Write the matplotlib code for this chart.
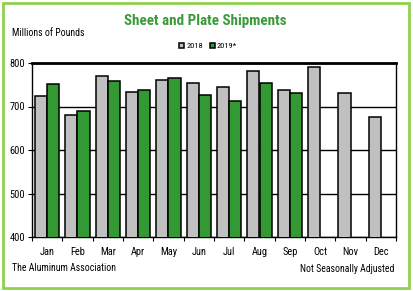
import numpy as np
import matplotlib
matplotlib.use("Agg")
import matplotlib.pyplot as plt
from matplotlib.patches import Rectangle

plt.rcParams['font.family'] = ['Roboto Condensed', 'Archivo Narrow', 'DejaVu Sans']

months = ["Jan", "Feb", "Mar", "Apr", "May", "Jun", "Jul", "Aug", "Sep", "Oct", "Nov", "Dec"]
ship_2018 = [724, 680, 770, 733, 760, 753, 745, 781, 738, 790, 731, 676]
ship_2019 = [752, 690, 759, 739, 765, 726, 712, 754, 732]
yticks = [400, 500, 600, 700, 800]

GRAY = "#c0c0c0"
GREEN = "#339933"

fig = plt.figure(figsize=(4.14, 2.91), dpi=100)
ax = fig.add_axes([32 / 414, 1 - 237 / 291, 364 / 414, 174 / 291])

x = np.arange(len(months))
w = 0.4
ax.bar(x - w / 2, ship_2018, w, color=GRAY, edgecolor="black", linewidth=1.1,
       label="2018", zorder=3)
ax.bar(np.arange(len(ship_2019)) + w / 2, ship_2019, w, color=GREEN, edgecolor="black",
       linewidth=1.1, label="2019*", zorder=3)

ax.set_xlim(-0.5, len(months) - 0.5)
ax.set_ylim(400, 800)
ax.set_yticks(yticks)
ax.set_yticklabels([str(v) for v in yticks], fontsize=7.5)
ax.grid(axis="y", color="black", linewidth=1.0, zorder=0)

ax.set_xticks(x)
ax.set_xticklabels(months, fontsize=7.5)
ax.set_xticks(np.arange(len(months) + 1) - 0.5, minor=True)
ax.tick_params(axis="x", which="major", length=0, pad=7)
ax.tick_params(axis="x", which="minor", length=3, direction="out", width=0.8)
ax.tick_params(axis="y", length=3, width=0.8, pad=2)

for s in ["left", "bottom", "right"]:
    ax.spines[s].set_linewidth(1.0)
ax.spines["top"].set_linewidth(2.0)

fig.text(0.495, 1 - 21 / 291, "Sheet and Plate Shipments", color="#3a9a3a", fontsize=10.8,
         fontweight="bold", ha="center", va="center")
fig.text(12 / 414, 1 - 33 / 291, "Millions of Pounds", fontsize=7, ha="left", va="center")
fig.text(12 / 414, 1 - 268 / 291, "The Aluminum Association", fontsize=7, ha="left",
         va="center")
fig.text(394 / 414, 1 - 269 / 291, "Not Seasonally Adjusted", fontsize=7, ha="right",
         va="center")

fig.legend(loc="center", bbox_to_anchor=(208 / 414, 1 - 46 / 291), ncol=2,
           frameon=False, fontsize=6, handlelength=0.6, handleheight=0.6,
           handletextpad=0.2, columnspacing=0.8)

fig.patches.append(Rectangle((3 / 414, 3 / 291), 406 / 414, 285 / 291, transform=fig.transFigure,
                             fill=False, edgecolor="#8fd14f", linewidth=2.0))

fig.savefig("out.png", dpi=100)
